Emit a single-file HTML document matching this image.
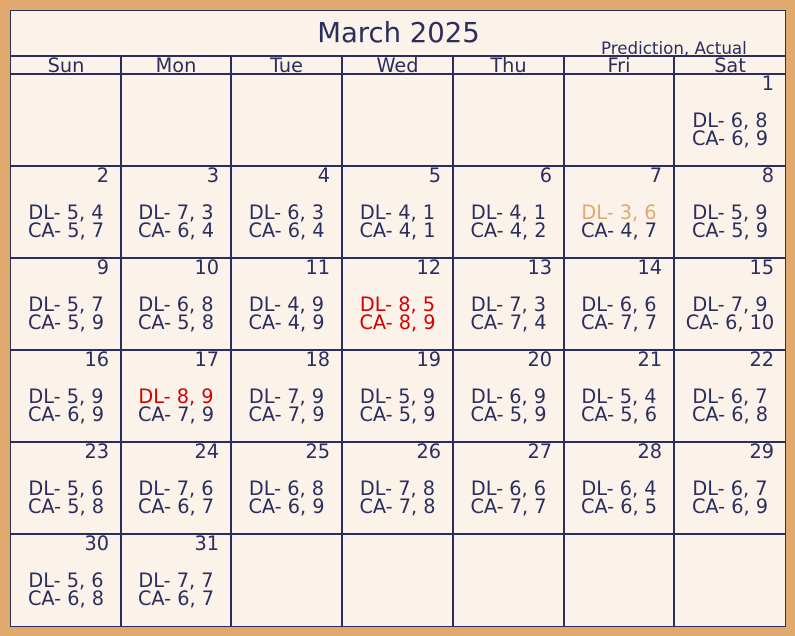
<!DOCTYPE html>
<html><head><meta charset="utf-8"><style>
body{margin:0;background:#e0aa6e;}
#cal{position:absolute;left:10px;top:10px;width:774px;height:615px;background:#fbf2ea;border:1px solid #2b2d5c;box-sizing:content-box;font-family:"DejaVu Sans","Liberation Sans",sans-serif;color:#2b2d5c;overflow:hidden}
.hl{position:absolute;height:2px;background:#2b2d5c;left:0;width:775px}
.vl{position:absolute;width:2px;background:#2b2d5c;top:45px;height:571px}
.t{position:absolute;white-space:nowrap;font-size:19.3px;line-height:19px}
</style></head><body>
<div id="cal">
<div class="t" style="left:0;width:775px;text-align:center;top:7px;font-size:27.5px;line-height:30px">March 2025</div>
<div class="t" style="left:590px;top:29px;font-size:16.7px;line-height:17px">Prediction, Actual</div>
</div>
<script>
const days=['Sun','Mon','Tue','Wed','Thu','Fri','Sat'];
const firstDow=6;
const dl=[[6,8],[5,4],[7,3],[6,3],[4,1],[4,1],[3,6],[5,9],[5,7],[6,8],[4,9],[8,5],[7,3],[6,6],[7,9],[5,9],[8,9],[7,9],[5,9],[6,9],[5,4],[6,7],[5,6],[7,6],[6,8],[7,8],[6,6],[6,4],[6,7],[5,6],[7,7]];
const ca=[[6,9],[5,7],[6,4],[6,4],[4,1],[4,2],[4,7],[5,9],[5,9],[5,8],[4,9],[8,9],[7,4],[7,7],[6,10],[6,9],[7,9],[7,9],[5,9],[5,9],[5,6],[6,8],[5,8],[6,7],[6,9],[7,8],[7,7],[6,5],[6,9],[6,8],[6,7]];
const dlColor={7:'#e0aa6e',12:'#d40000',17:'#d40000'};
const caColor={12:'#d40000'};
const cal=document.getElementById('cal');
const colX=[0,110,220,331,442,553,663,775];
const rowY=[63,155,247,339,431,523,615];
function add(cls,style,text,name){const e=document.createElement('div');e.className=cls;e.style.cssText=style;if(text!==undefined)e.textContent=text;


cal.appendChild(e);return e;}
add('hl','top:44px','', 'header-top-line');
add('hl','top:62px','', 'header-bottom-line');
for(let r=1;r<6;r++)add('hl','top:'+(rowY[r]-1)+'px','','row-line');
for(let c=1;c<7;c++)add('vl','left:'+(colX[c]-1)+'px','','column-line');
days.forEach((d,i)=>add('t','left:'+colX[i]+'px;width:'+(colX[i+1]-colX[i])+'px;text-align:center;top:45px',d,'weekday-'+d.toLowerCase()));
for(let d=1;d<=31;d++){const idx=firstDow+d-1;const c=idx%7,r=Math.floor(idx/7);
const x=colX[c],w=colX[c+1]-colX[c],y=rowY[r];
add('t','left:'+x+'px;width:'+(w-12)+'px;text-align:right;top:'+(y+0)+'px',String(d),'day-number-'+d);
add('t','left:'+x+'px;width:'+w+'px;text-align:center;top:'+(y+37)+'px;color:'+(dlColor[d]||'#2b2d5c'),'DL- '+dl[d-1][0]+', '+dl[d-1][1],'dl-value-'+d);
add('t','left:'+x+'px;width:'+w+'px;text-align:center;top:'+(y+55)+'px;color:'+(caColor[d]||'#2b2d5c'),'CA- '+ca[d-1][0]+', '+ca[d-1][1],'ca-value-'+d);}
</script>
</body></html>
